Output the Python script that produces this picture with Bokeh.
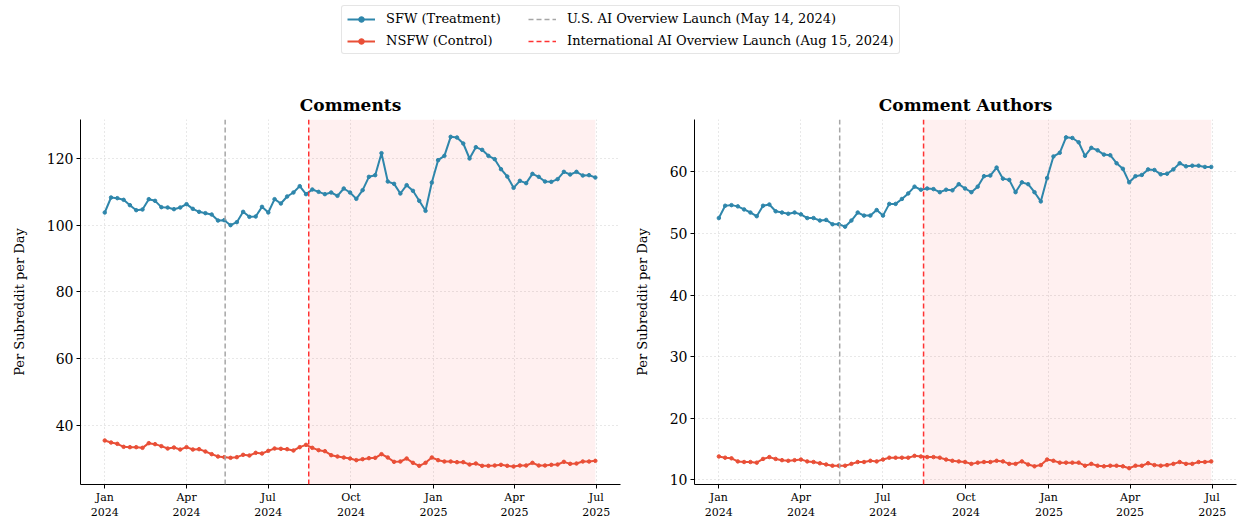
import pandas as pd
from bokeh.plotting import figure
from bokeh.models import (Range1d, FixedTicker, Span, BoxAnnotation, Legend,
                          LegendItem, ColumnDataSource)
from bokeh.layouts import column, row
from bokeh.embed import file_html
from bokeh.resources import INLINE

# ---------------- data ----------------
weeks = pd.date_range("2024-01-01", periods=79, freq="7D")

comments_sfw = [103.8, 108.3, 108.1, 107.6, 106.0, 104.5, 104.7, 107.8, 107.3, 105.4,
                105.3, 104.8, 105.3, 106.3, 104.9, 104.0, 103.6, 103.2, 101.4, 101.5,
                100.0, 100.9, 104.0, 102.5, 102.6, 105.5, 103.8, 107.8, 106.5, 108.6,
                109.8, 111.7, 109.3, 110.7, 110.0, 109.3, 109.8, 108.8, 111.0, 109.8,
                107.9, 110.5, 114.5, 115.0, 121.6, 113.1, 112.4, 109.5, 112.0, 110.3,
                107.3, 104.3, 112.8, 119.5, 120.8, 126.5, 126.3, 124.5, 120.0, 123.4,
                122.6, 120.8, 119.8, 116.8, 114.6, 111.2, 113.3, 112.6, 115.4, 114.5,
                113.1, 113.0, 113.8, 116.0, 115.2, 116.0, 114.9, 115.0, 114.3]
comments_nsfw = [35.4, 34.8, 34.4, 33.5, 33.4, 33.4, 33.2, 34.6, 34.3, 33.7,
                 33.0, 33.3, 32.7, 33.4, 32.7, 32.8, 32.1, 31.3, 30.6, 30.4,
                 30.2, 30.4, 31.1, 30.9, 31.7, 31.5, 32.3, 33.0, 32.9, 32.8,
                 32.4, 33.4, 34.1, 33.2, 32.5, 32.2, 31.0, 30.6, 30.3, 30.0,
                 29.5, 29.8, 30.1, 30.2, 31.3, 30.3, 29.0, 29.1, 30.0, 28.7,
                 27.8, 28.7, 30.3, 29.5, 29.1, 29.1, 28.9, 28.9, 28.2, 28.5,
                 27.8, 27.8, 27.9, 28.1, 27.8, 27.6, 27.9, 27.9, 28.7, 27.9,
                 27.9, 28.1, 28.2, 29.0, 28.4, 28.5, 29.1, 29.1, 29.3]
authors_sfw = [52.5, 54.5, 54.6, 54.4, 53.9, 53.4, 52.8, 54.5, 54.7, 53.6,
               53.4, 53.2, 53.4, 53.1, 52.5, 52.5, 52.1, 52.2, 51.5, 51.5,
               51.1, 52.1, 53.4, 52.9, 52.9, 53.8, 52.9, 54.8, 54.8, 55.6,
               56.5, 57.6, 57.1, 57.3, 57.2, 56.7, 57.1, 57.0, 58.0, 57.3,
               56.7, 57.6, 59.3, 59.4, 60.7, 58.9, 58.7, 56.7, 58.3, 58.0,
               56.7, 55.2, 59.0, 62.5, 63.1, 65.6, 65.5, 64.8, 62.6, 63.9,
               63.5, 62.8, 62.7, 61.4, 60.5, 58.3, 59.3, 59.5, 60.4, 60.3,
               59.6, 59.7, 60.4, 61.4, 60.9, 61.0, 61.0, 60.8, 60.8]
authors_nsfw = [13.8, 13.6, 13.5, 13.0, 12.9, 12.9, 12.8, 13.4, 13.7, 13.4,
                13.2, 13.1, 13.2, 13.3, 13.0, 12.9, 12.7, 12.5, 12.3, 12.3,
                12.3, 12.6, 12.9, 12.9, 13.1, 13.0, 13.3, 13.6, 13.6, 13.6,
                13.6, 13.9, 13.8, 13.7, 13.7, 13.6, 13.3, 13.1, 13.0, 12.9,
                12.6, 12.8, 12.9, 12.9, 13.1, 13.0, 12.6, 12.6, 13.0, 12.5,
                12.2, 12.4, 13.3, 13.1, 12.8, 12.8, 12.8, 12.8, 12.3, 12.6,
                12.3, 12.2, 12.3, 12.3, 12.2, 11.9, 12.3, 12.3, 12.7, 12.4,
                12.3, 12.4, 12.6, 12.9, 12.6, 12.6, 12.9, 12.9, 13.0]

tick_dates = ["2024-01-01", "2024-04-01", "2024-07-01", "2024-10-01",
              "2025-01-01", "2025-04-01", "2025-07-01"]
tick_labels = ["Jan\n2024", "Apr\n2024", "Jul\n2024", "Oct\n2024",
               "Jan\n2025", "Apr\n2025", "Jul\n2025"]
comments_yticks = [40, 60, 80, 100, 120]
authors_yticks = [10, 20, 30, 40, 50, 60]

us_launch = "2024-05-14"
intl_launch = "2024-08-15"
shade_end = "2025-06-30"

series_labels = ["SFW (Treatment)", "NSFW (Control)"]
line_labels = ["U.S. AI Overview Launch (May 14, 2024)",
               "International AI Overview Launch (Aug 15, 2024)"]

# ---------------- style ----------------
FONT = "DejaVu Serif"
SFW_COLOR = "#2E86AB"
NSFW_COLOR = "#E94F37"
GRAY_LINE = "#a6a6a6"
RED_LINE = "#ff3333"


def ms(d):
    return pd.Timestamp(d).value / 1e6


x_start = ms("2023-12-05")
x_end = ms("2025-07-28")
tick_ms = [ms(d) for d in tick_dates]


def make_panel(title, sfw, nsfw, y0, y1, yticks, width, bl, br):
    p = figure(width=width, height=434, x_axis_type="datetime",
               x_range=Range1d(x_start, x_end), y_range=Range1d(y0, y1),
               output_backend="svg", toolbar_location=None,
               min_border_left=bl, min_border_right=br,
               min_border_top=31, min_border_bottom=34)
    p.outline_line_color = None
    p.background_fill_color = "white"
    p.border_fill_color = "white"

    p.title.text = title
    p.title.align = "center"
    p.title.text_font = FONT
    p.title.text_font_size = "17px"
    p.title.text_font_style = "bold"
    p.title.text_color = "black"
    p.title.standoff = 9

    shade = BoxAnnotation(left=ms(intl_launch), right=ms(shade_end),
                          fill_color="red", fill_alpha=0.06, line_color=None,
                          level="underlay")
    p.add_layout(shade)

    src = ColumnDataSource(dict(x=weeks, sfw=sfw, nsfw=nsfw))
    p.line("x", "sfw", source=src, color=SFW_COLOR, line_width=2)
    p.scatter("x", "sfw", source=src, color=SFW_COLOR, size=3.5)
    p.line("x", "nsfw", source=src, color=NSFW_COLOR, line_width=2)
    p.scatter("x", "nsfw", source=src, color=NSFW_COLOR, size=3.5)

    p.add_layout(Span(location=ms(us_launch), dimension="height",
                      line_color=GRAY_LINE, line_width=1.5, line_dash="5 3"))
    p.add_layout(Span(location=ms(intl_launch), dimension="height",
                      line_color=RED_LINE, line_width=1.5, line_dash="5 3"))

    p.xaxis.ticker = FixedTicker(ticks=tick_ms)
    p.xaxis.major_label_overrides = {t: lab for t, lab in zip(tick_ms, tick_labels)}
    p.yaxis.ticker = FixedTicker(ticks=yticks)

    for ax in (p.xaxis, p.yaxis):
        ax.axis_line_color = "black"
        ax.axis_line_width = 1
        ax.major_tick_line_color = "black"
        ax.major_tick_in = 0
        ax.major_tick_out = 4
        ax.minor_tick_line_color = None
        ax.major_label_text_font = FONT
        ax.major_label_text_color = "black"
    p.xaxis.major_label_text_font_size = "11px"
    p.xaxis.major_label_standoff = 2
    p.yaxis.major_label_text_font_size = "14px"
    p.yaxis.major_label_standoff = 3

    p.yaxis.axis_label = "Per Subreddit per Day"
    p.yaxis.axis_label_text_font = FONT
    p.yaxis.axis_label_text_font_size = "13px"
    p.yaxis.axis_label_text_font_style = "normal"
    p.yaxis.axis_label_text_color = "black"
    p.yaxis.axis_label_standoff = 17

    p.grid.grid_line_color = "#d0d0d0"
    p.grid.grid_line_dash = "1 3"
    p.grid.grid_line_width = 1
    return p


p1 = make_panel("Comments", comments_sfw, comments_nsfw, 22.2, 131.7,
                comments_yticks, 630, 80, 10)
p2 = make_panel("Comment Authors", authors_sfw, authors_nsfw, 9.25, 68.5,
                authors_yticks, 607, 64, 1)

# ---------------- legend strip ----------------
leg = figure(width=1237, height=88, x_range=Range1d(0, 1), y_range=Range1d(0, 1),
             x_axis_type=None, y_axis_type=None, output_backend="svg",
             toolbar_location=None, min_border=0)
leg.outline_line_color = None
leg.grid.visible = False
hidden = ColumnDataSource(dict(x=[-5, -4], y=[-5, -4]))
r_sfw_l = leg.line("x", "y", source=hidden, color=SFW_COLOR, line_width=2)
r_sfw_s = leg.scatter("x", "y", source=hidden, color=SFW_COLOR, size=3.5)
r_nsfw_l = leg.line("x", "y", source=hidden, color=NSFW_COLOR, line_width=2)
r_nsfw_s = leg.scatter("x", "y", source=hidden, color=NSFW_COLOR, size=3.5)
r_us = leg.line("x", "y", source=hidden, color=GRAY_LINE, line_width=1.5, line_dash="5 3")
r_int = leg.line("x", "y", source=hidden, color=RED_LINE, line_width=1.5, line_dash="5 3")

legend = Legend(items=[
    LegendItem(label=series_labels[0], renderers=[r_sfw_l, r_sfw_s]),
    LegendItem(label=series_labels[1], renderers=[r_nsfw_l, r_nsfw_s]),
    LegendItem(label=line_labels[0], renderers=[r_us]),
    LegendItem(label=line_labels[1], renderers=[r_int]),
], ncols=2, location=(341, 34))
legend.label_text_font = FONT
legend.label_text_font_size = "13px"
legend.label_text_color = "black"
legend.glyph_width = 28
legend.glyph_height = 14
legend.label_standoff = 11
legend.label_width = 135
legend.spacing = 7
legend.padding = 5
legend.margin = 0
legend.border_line_color = "#cccccc"
legend.border_line_width = 1
legend.border_radius = 3
legend.background_fill_alpha = 1
leg.add_layout(legend, "center")

layout = column(leg, row(p1, p2, spacing=0), spacing=0)

with open("out.html", "w") as f:
    f.write(file_html(layout, INLINE))
